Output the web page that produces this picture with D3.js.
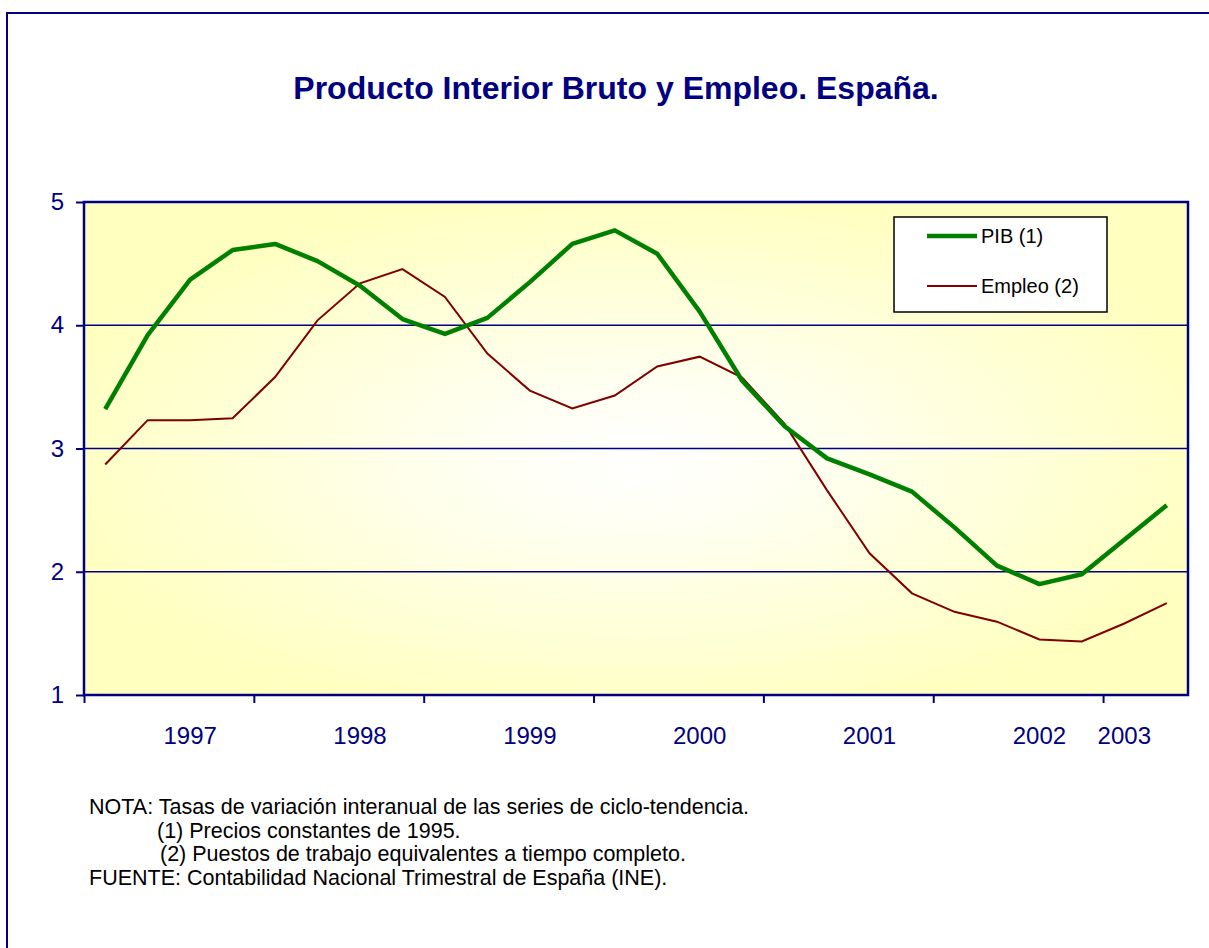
<!DOCTYPE html>
<html>
<head>
<meta charset="utf-8">
<script src="https://cdn.jsdelivr.net/npm/d3@7"></script>
<style>
  body { margin: 0; background: white; }
  svg { display: block; }
</style>
</head>
<body>
<div id="chart"></div>
<script>
// trimestres, etiqueta de año solo en algunas categorías
var yearLabels = ["", "", "1997", "", "", "", "1998", "", "", "", "1999", "", "", "",
  "2000", "", "", "", "2001", "", "", "", "2002", "", "2003", ""];

var pib = [3.32, 3.92, 4.37, 4.61, 4.66, 4.52, 4.32, 4.05, 3.93, 4.06, 4.35, 4.66, 4.77,
  4.58, 4.11, 3.55, 3.18, 2.92, 2.79, 2.65, 2.36, 2.05, 1.90, 1.98, 2.26, 2.54];

var empleo = [2.87, 3.23, 3.23, 3.245, 3.58, 4.04, 4.34, 4.455, 4.23, 3.77, 3.47, 3.325, 3.43,
  3.665, 3.745, 3.575, 3.20, 2.66, 2.15, 1.825, 1.675, 1.595, 1.45, 1.435, 1.58, 1.745];

var yTicks = [1, 2, 3, 4, 5];

var notes = [
  { text: "NOTA: Tasas de variación interanual de las series de ciclo-tendencia.", x: 89 },
  { text: "(1) Precios constantes de 1995.", x: 157 },
  { text: "(2) Puestos de trabajo equivalentes a tiempo completo.", x: 160 },
  { text: "FUENTE: Contabilidad Nacional Trimestral de España (INE).", x: 89 }
];

function renderChart() {
  var width = 1209;
  var height = 948;
  var navy = "#000080";
  var font = "'Liberation Sans', Arial, sans-serif";

  var plot = { left: 84, right: 1188, top: 202, bottom: 695 };

  var svg = d3.select("#chart")
    .append("svg")
    .attr("width", width)
    .attr("height", height);

  // marco exterior
  svg.append("rect")
    .attr("x", 7)
    .attr("y", 13)
    .attr("width", width + 20)
    .attr("height", height + 20)
    .attr("fill", "white")
    .attr("stroke", navy)
    .attr("stroke-width", 2);

  var defs = svg.append("defs");
  var grad = defs.append("radialGradient")
    .attr("id", "bg")
    .attr("cx", "50%")
    .attr("cy", "52%")
    .attr("r", "55%");
  grad.append("stop").attr("offset", "0%").attr("stop-color", "#ffffff");
  grad.append("stop").attr("offset", "30%").attr("stop-color", "#fffff0");
  grad.append("stop").attr("offset", "100%").attr("stop-color", "#ffffc0");

  var x = d3.scaleLinear()
    .domain([0, pib.length])
    .range([plot.left, plot.right]);

  var y = d3.scaleLinear()
    .domain([1, 5])
    .range([plot.bottom, plot.top]);

  svg.append("rect")
    .attr("x", plot.left)
    .attr("y", plot.top)
    .attr("width", plot.right - plot.left)
    .attr("height", plot.bottom - plot.top)
    .attr("fill", "url(#bg)");

  // título
  svg.append("text")
    .attr("x", 616)
    .attr("y", 99)
    .attr("text-anchor", "middle")
    .style("font-family", font)
    .style("font-size", "32px")
    .style("font-weight", "bold")
    .style("fill", navy)
    .text("Producto Interior Bruto y Empleo. España.");

  // líneas de división
  svg.append("g")
    .selectAll("line")
    .data(yTicks.filter(function(d) { return d > 1 && d < 5; }))
    .enter().append("line")
    .attr("x1", plot.left)
    .attr("x2", plot.right)
    .attr("y1", function(d) { return y(d); })
    .attr("y2", function(d) { return y(d); })
    .attr("stroke", navy)
    .attr("stroke-width", 1.5);

  // eje Y
  var yAxis = svg.append("g")
    .attr("transform", "translate(" + plot.left + ",0)")
    .call(d3.axisLeft(y).tickValues(yTicks).tickFormat(d3.format("d")).tickSize(8).tickPadding(12));

  // eje X: marcas cada cuatro trimestres
  var tickIdx = d3.range(0, pib.length, 4);
  var xAxis = svg.append("g")
    .attr("transform", "translate(0," + plot.bottom + ")")
    .call(d3.axisBottom(x).tickValues(tickIdx).tickFormat("").tickSize(8));

  [yAxis, xAxis].forEach(function(ax) {
    ax.select(".domain").remove();
    ax.selectAll(".tick line").attr("stroke", navy).attr("stroke-width", 2);
    ax.selectAll("text")
      .style("font-family", font)
      .style("font-size", "24px")
      .style("fill", navy);
  });

  svg.append("g")
    .selectAll("text")
    .data(yearLabels)
    .enter().append("text")
    .attr("x", function(d, i) { return x(i + 0.5); })
    .attr("y", 744)
    .attr("text-anchor", "middle")
    .style("font-family", font)
    .style("font-size", "24px")
    .style("fill", navy)
    .text(function(d) { return d; });

  // borde del área de trazado
  svg.append("rect")
    .attr("x", plot.left)
    .attr("y", plot.top)
    .attr("width", plot.right - plot.left)
    .attr("height", plot.bottom - plot.top)
    .attr("fill", "none")
    .attr("stroke", navy)
    .attr("stroke-width", 2.5);

  var line = d3.line()
    .x(function(d, i) { return x(i + 0.5); })
    .y(function(d) { return y(d); });

  svg.append("path")
    .datum(empleo)
    .attr("d", line)
    .attr("fill", "none")
    .attr("stroke", "#800000")
    .attr("stroke-width", 2);

  svg.append("path")
    .datum(pib)
    .attr("d", line)
    .attr("fill", "none")
    .attr("stroke", "#008000")
    .attr("stroke-width", 4.5)
    .attr("stroke-linejoin", "round");

  // leyenda
  var legend = svg.append("g");
  legend.append("rect")
    .attr("x", 894)
    .attr("y", 217)
    .attr("width", 213)
    .attr("height", 95)
    .attr("fill", "white")
    .attr("stroke", "#000000")
    .attr("stroke-width", 1.5);

  var items = [
    { name: "PIB (1)", color: "#008000", w: 4.5, y: 236 },
    { name: "Empleo (2)", color: "#800000", w: 2, y: 286 }
  ];

  legend.selectAll("line")
    .data(items)
    .enter().append("line")
    .attr("x1", 927)
    .attr("x2", 977)
    .attr("y1", function(d) { return d.y; })
    .attr("y2", function(d) { return d.y; })
    .attr("stroke", function(d) { return d.color; })
    .attr("stroke-width", function(d) { return d.w; });

  legend.selectAll("text")
    .data(items)
    .enter().append("text")
    .attr("x", 981)
    .attr("y", function(d) { return d.y + 7; })
    .style("font-family", font)
    .style("font-size", "20px")
    .style("fill", "#000000")
    .text(function(d) { return d.name; });

  // notas
  svg.append("g")
    .selectAll("text")
    .data(notes)
    .enter().append("text")
    .attr("x", function(d) { return d.x; })
    .attr("y", function(d, i) { return 814 + i * 23.7; })
    .style("font-family", font)
    .style("font-size", "21.5px")
    .style("fill", "#000000")
    .text(function(d) { return d.text; });
}

renderChart();
</script>
</body>
</html>
